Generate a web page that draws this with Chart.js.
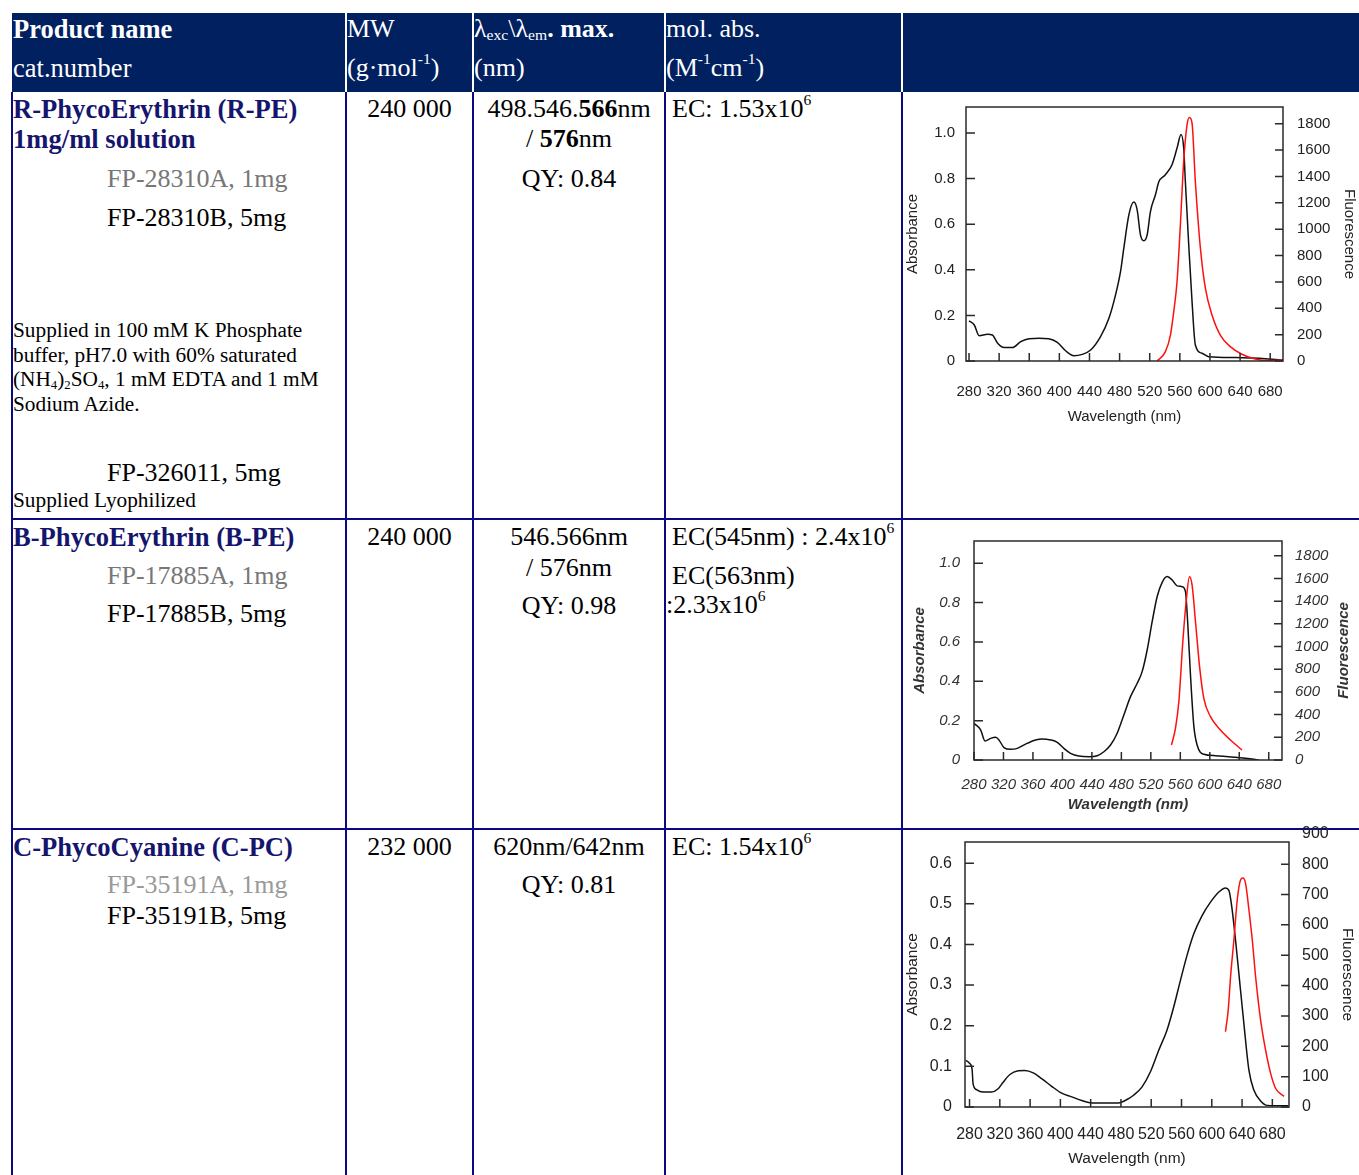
<!DOCTYPE html>
<html>
<head>
<meta charset="utf-8">
<script src="https://cdn.jsdelivr.net/npm/chart.js@4.4.1/dist/chart.umd.min.js"></script>
<style>
  body { margin:0; background:#fff; width:1359px; height:1175px; overflow:hidden; position:relative;
         font-family:"Liberation Serif","Times New Roman",serif; }
  .hd { position:absolute; left:12px; top:13px; width:1347px; height:79px; background:#002060; }
  .sepw { position:absolute; top:13px; height:79px; width:2px; background:#fff; }
  .vl { position:absolute; top:92px; height:1083px; width:2px; background:#0a0a80; }
  .hl { position:absolute; left:11px; width:1348px; height:2px; background:#0a0a80; }
  .t { position:absolute; font-size:26px; line-height:26px; white-space:nowrap; color:#000; }
  .h { font-size:26.5px; }
  .s { position:absolute; font-size:21.3px; line-height:24.5px; white-space:nowrap; color:#000; }
  .w { color:#fff; }
  .b { font-weight:bold; }
  .n { color:#15156e; font-weight:bold; font-size:26.6px; }
  .g { color:#777; }
  .g2 { color:#999; }
  .c { text-align:center; }
  sup { font-size:0.6em; line-height:0; vertical-align:0.75em; }
  sub { font-size:0.6em; line-height:0; vertical-align:-0.2em; }
  canvas { position:absolute; }
</style>
</head>
<body>
<div class="hd"></div>
<div class="sepw" style="left:345px"></div>
<div class="sepw" style="left:472px"></div>
<div class="sepw" style="left:664px"></div>
<div class="sepw" style="left:901px"></div>

<div class="vl" style="left:11px"></div>
<div class="vl" style="left:345px"></div>
<div class="vl" style="left:472px"></div>
<div class="vl" style="left:664px"></div>
<div class="vl" style="left:901px"></div>
<div class="hl" style="top:518px"></div>
<div class="hl" style="top:828px"></div>

<!-- header -->
<div class="t h w b" style="left:13px;top:16px">Product name</div>
<div class="t h w" style="left:13px;top:55px">cat.number</div>
<div class="t w" style="left:347px;top:16px">MW</div>
<div class="t w" style="left:347px;top:55px">(g·mol<sup>-1</sup>)</div>
<div class="t w" style="left:474px;top:16px">λ<sub>exc</sub>\λ<sub>em</sub><b>. max.</b></div>
<div class="t w" style="left:474px;top:55px">(nm)</div>
<div class="t w" style="left:666px;top:16px">mol. abs.</div>
<div class="t w" style="left:666px;top:55px">(M<sup>-1</sup>cm<sup>-1</sup>)</div>

<!-- row 1 -->
<div class="t n" style="left:13px;top:96px">R-PhycoErythrin (R-PE)</div>
<div class="t n" style="left:13px;top:126px">1mg/ml solution</div>
<div class="t g" style="left:107px;top:166px">FP-28310A, 1mg</div>
<div class="t" style="left:107px;top:205px">FP-28310B, 5mg</div>
<div class="s" style="left:13px;top:318px">Supplied in 100 mM K Phosphate<br>buffer, pH7.0 with 60% saturated<br>(NH<sub>4</sub>)<sub>2</sub>SO<sub>4</sub>, 1 mM EDTA and 1 mM<br>Sodium Azide.</div>
<div class="t" style="left:107px;top:460px">FP-326011, 5mg</div>
<div class="s" style="left:13px;top:488px">Supplied Lyophilized</div>
<div class="t c" style="left:347px;width:125px;top:96px">240 000</div>
<div class="t c" style="left:474px;width:190px;top:96px">498.546.<b>566</b>nm</div>
<div class="t c" style="left:474px;width:190px;top:126px">/ <b>576</b>nm</div>
<div class="t c" style="left:474px;width:190px;top:166px">QY: 0.84</div>
<div class="t" style="left:672px;top:96px">EC: 1.53x10<sup>6</sup></div>

<!-- row 2 -->
<div class="t n" style="left:13px;top:524px">B-PhycoErythrin (B-PE)</div>
<div class="t g" style="left:107px;top:563px">FP-17885A, 1mg</div>
<div class="t" style="left:107px;top:601px">FP-17885B, 5mg</div>
<div class="t c" style="left:347px;width:125px;top:524px">240 000</div>
<div class="t c" style="left:474px;width:190px;top:524px">546.566nm</div>
<div class="t c" style="left:474px;width:190px;top:555px">/ 576nm</div>
<div class="t c" style="left:474px;width:190px;top:593px">QY: 0.98</div>
<div class="t" style="left:672px;top:524px">EC(545nm) : 2.4x10<sup>6</sup></div>
<div class="t" style="left:672px;top:563px">EC(563nm)</div>
<div class="t" style="left:666px;top:592px">:2.33x10<sup>6</sup></div>

<!-- row 3 -->
<div class="t n" style="left:13px;top:834px">C-PhycoCyanine (C-PC)</div>
<div class="t g2" style="left:107px;top:872px">FP-35191A, 1mg</div>
<div class="t" style="left:107px;top:903px">FP-35191B, 5mg</div>
<div class="t c" style="left:347px;width:125px;top:834px">232 000</div>
<div class="t c" style="left:474px;width:190px;top:834px">620nm/642nm</div>
<div class="t c" style="left:474px;width:190px;top:872px">QY: 0.81</div>
<div class="t" style="left:672px;top:834px">EC: 1.54x10<sup>6</sup></div>

<canvas id="c1" width="456" height="426" style="left:903px;top:93px"></canvas>
<canvas id="c2" width="456" height="308" style="left:903px;top:521px"></canvas>
<canvas id="c3" width="456" height="355" style="left:903px;top:820px"></canvas>

<script>
// axis ticks
const nmTicks = [280, 320, 360, 400, 440, 480, 520, 560, 600, 640, 680];
const absTicksPE = [0, 0.2, 0.4, 0.6, 0.8, 1.0];
const flTicksPE = [0, 200, 400, 600, 800, 1000, 1200, 1400, 1600, 1800];
const absTicksPC = [0, 0.1, 0.2, 0.3, 0.4, 0.5, 0.6];
const flTicksPC = [0, 100, 200, 300, 400, 500, 600, 700, 800, 900];

// R-PE
const rpeAbsNm = [280, 287, 293.5, 304.5, 311, 318, 326.6, 337.7, 348.7, 359.8, 373, 386, 397.3, 408.3, 419.4, 430.4, 441.5, 454.7, 465.8, 474.6, 481.2, 485.6, 492.3, 498.9, 503.3, 507.7, 512.1, 516.6, 521, 527.6, 532, 540.8, 549.6, 556.3, 561.6, 565.1, 567.3, 571.8, 576.2, 580.6, 589.4, 598.3, 633.6, 677.8, 697];
const rpeAbs = [0.176, 0.158, 0.111, 0.117, 0.114, 0.078, 0.059, 0.059, 0.085, 0.098, 0.1, 0.098, 0.082, 0.045, 0.023, 0.029, 0.048, 0.107, 0.187, 0.29, 0.392, 0.495, 0.641, 0.697, 0.663, 0.553, 0.527, 0.553, 0.656, 0.729, 0.785, 0.817, 0.861, 0.934, 0.993, 0.934, 0.788, 0.51, 0.261, 0.07, 0.034, 0.019, 0.015, 0.009, 0.004];
const rpeFlNm = [529.8, 540.8, 547.5, 551.9, 556.3, 560.7, 565.1, 569.6, 572.7, 576.2, 580.6, 587.3, 593.9, 602.7, 613.7, 627, 642.4, 660.1, 677.8, 697];
const rpeFl = [0, 71, 197, 375, 603, 1033, 1514, 1793, 1848, 1805, 1362, 856, 552, 349, 197, 109, 51, 15, 3, 8];

// B-PE
const bpeAbsNm = [280, 289, 294.9, 302.6, 309.4, 313.9, 320.7, 329.7, 338.8, 350, 363.6, 372.7, 384, 393, 402, 411, 422.4, 436, 447.2, 456.3, 465.3, 474.3, 483.4, 492.4, 501.5, 508.2, 515, 521.8, 528.6, 535.4, 542.1, 548.9, 555.7, 562.5, 567, 570.2, 573.8, 578.3, 582.8, 591.9, 607.7, 634.8, 661.9, 666.4];
const bpeAbs = [0.186, 0.153, 0.097, 0.11, 0.115, 0.102, 0.063, 0.054, 0.059, 0.081, 0.102, 0.107, 0.102, 0.09, 0.059, 0.034, 0.02, 0.017, 0.022, 0.042, 0.076, 0.136, 0.229, 0.322, 0.39, 0.449, 0.559, 0.703, 0.831, 0.903, 0.932, 0.915, 0.885, 0.881, 0.856, 0.686, 0.432, 0.175, 0.076, 0.029, 0.022, 0.014, 0.003, 0];
const bpeFlNm = [548, 553.4, 558, 563.4, 567.9, 572.4, 576, 580.6, 586.4, 591.9, 600.9, 614.5, 628, 643.8];
const bpeFl = [132, 279, 514, 1042, 1395, 1615, 1541, 1218, 807, 543, 382, 264, 176, 88];

// C-PC
const cpcAbsNm = [275, 280.2, 283.3, 284.7, 289.1, 297.9, 309, 317.8, 324.4, 333.3, 344.3, 353.1, 364.2, 375.2, 388.5, 401.7, 415, 428.2, 441.5, 454.7, 476.8, 485.6, 496.7, 507.7, 518.8, 529.8, 540.8, 549.7, 558.5, 567.3, 576.2, 587.2, 598.3, 609.3, 618.1, 622.6, 627, 631.4, 635.8, 642.4, 649.1, 655.7, 664.5, 673.4, 701];
const cpcAbs = [0.115, 0.107, 0.094, 0.057, 0.043, 0.037, 0.037, 0.045, 0.061, 0.08, 0.089, 0.09, 0.084, 0.07, 0.051, 0.034, 0.025, 0.016, 0.01, 0.01, 0.01, 0.016, 0.029, 0.049, 0.086, 0.139, 0.189, 0.246, 0.311, 0.373, 0.426, 0.471, 0.504, 0.529, 0.539, 0.533, 0.484, 0.41, 0.328, 0.205, 0.09, 0.041, 0.015, 0.004, 0.003];
const cpcFlNm = [618.1, 621.7, 624.8, 629.2, 633.6, 638, 641.1, 644.6, 649.1, 653.5, 657.9, 664.5, 671.1, 677.8, 684.4, 695.4];
const cpcFl = [248, 319, 429, 550, 682, 748, 754, 737, 649, 550, 429, 286, 187, 110, 61, 35];

const pairs = (xs, ys) => xs.map((x, i) => ({ x: x, y: ys[i] }));

// frame around plot with inward tick marks (+ optional bottom-to-top right title)
const framePlugin = {
  id: 'frame',
  afterDatasetsDraw(chart, args, opts) {
    const { ctx, chartArea: a, scales } = chart;
    ctx.save();
    ctx.strokeStyle = '#2a2a2a';
    ctx.lineWidth = 1.5;
    ctx.strokeRect(a.left, a.top, a.right - a.left, a.bottom - a.top);
    ctx.beginPath();
    scales.x.ticks.forEach((t) => {
      const p = scales.x.getPixelForValue(t.value);
      ctx.moveTo(p, a.bottom); ctx.lineTo(p, a.bottom - 8);
    });
    scales.y.ticks.forEach((t) => {
      if (t.value > scales.y.max) return;
      const p = scales.y.getPixelForValue(t.value);
      ctx.moveTo(a.left, p); ctx.lineTo(a.left + 9, p);
    });
    scales.y2.ticks.forEach((t) => {
      if (t.value > scales.y2.max) return;
      const p = scales.y2.getPixelForValue(t.value);
      ctx.moveTo(a.right, p); ctx.lineTo(a.right - 8, p);
    });
    ctx.stroke();
    if (opts.upTitle) {
      ctx.translate(opts.upX, (a.top + a.bottom) / 2);
      ctx.rotate(-Math.PI / 2);
      ctx.font = opts.upFont;
      ctx.fillStyle = opts.upColor;
      ctx.textAlign = 'center';
      ctx.textBaseline = 'middle';
      ctx.fillText(opts.upTitle, 0, 0);
    }
    ctx.restore();
  }
};

function noPad(s) {
  s.paddingTop = 0; s.paddingBottom = 0; s.paddingLeft = 0; s.paddingRight = 0;
}

function spectrum(id, abs, fl, lay) {
  const fam = 'Liberation Sans, Arial, sans-serif';
  const font = { family: fam, size: lay.tickSize, style: lay.style };
  const titleFont = { family: fam, size: lay.titleSize, style: lay.style, weight: lay.titleWeight };
  new Chart(document.getElementById(id), {
    type: 'line',
    data: {
      datasets: [
        { data: fl, yAxisID: 'y2', borderColor: '#ff1010', borderWidth: 1.5, pointRadius: 0, cubicInterpolationMode: 'monotone' },
        { data: abs, yAxisID: 'y', borderColor: '#111', borderWidth: 1.5, pointRadius: 0, cubicInterpolationMode: 'monotone' }
      ]
    },
    options: {
      responsive: false,
      animation: false,
      events: [],
      layout: { padding: { top: lay.top, bottom: lay.bottom, left: 0, right: 0 } },
      plugins: {
        legend: { display: false },
        tooltip: { enabled: false },
        frame: lay.upRight ? {
          upTitle: 'Fluorescence', upX: 456 - lay.upRight,
          upFont: lay.style + ' ' + lay.titleWeight + ' ' + lay.titleSize + 'px ' + fam, upColor: lay.color
        } : {}
      },
      scales: {
        x: {
          type: 'linear', min: lay.xMin, max: lay.xMax,
          afterBuildTicks: (s) => { s.ticks = nmTicks.map((v) => ({ value: v })); },
          afterFit: (s) => { s.height = lay.xh; noPad(s); },
          grid: { display: false, drawTicks: false }, border: { display: false },
          ticks: { autoSkip: false, maxRotation: 0, padding: lay.xPad, color: lay.color, font: font },
          title: { display: true, text: 'Wavelength (nm)', color: lay.color, font: titleFont, padding: 0 }
        },
        y: {
          position: 'left', min: 0, max: lay.absMax,
          afterBuildTicks: (s) => { s.ticks = lay.absTicks.map((v) => ({ value: v })); },
          afterFit: (s) => { s.width = lay.yw; noPad(s); },
          grid: { display: false, drawTicks: false }, border: { display: false },
          ticks: { padding: lay.yPad, color: lay.color, font: font, callback: (v) => (v === 0 ? '0' : v.toFixed(1)) },
          title: { display: true, text: 'Absorbance', color: lay.color, font: titleFont, padding: { top: lay.yTitlePad, bottom: 0 } }
        },
        y2: {
          position: 'right', min: 0, max: lay.flMax,
          afterBuildTicks: (s) => { s.ticks = lay.flTicks.map((v) => ({ value: v })); },
          afterFit: (s) => { s.width = lay.y2w; noPad(s); },
          grid: { display: false, drawTicks: false }, border: { display: false },
          ticks: { padding: lay.y2Pad, color: lay.color, font: font, callback: (v) => String(v) },
          title: { display: !lay.upRight, text: 'Fluorescence', color: lay.color, font: titleFont, padding: { top: lay.y2TitlePad, bottom: 0 } }
        }
      }
    },
    plugins: [framePlugin]
  });
}

spectrum('c1', pairs(rpeAbsNm, rpeAbs), pairs(rpeFlNm, rpeFl), {
  xMin: 276, xMax: 697, absMax: 1.114, flMax: 1927, absTicks: absTicksPE, flTicks: flTicksPE,
  top: 14, bottom: 93, xh: 65, yw: 63, y2w: 76, xPad: 22, yPad: 11, y2Pad: 14,
  yTitlePad: 1, y2TitlePad: 1, tickSize: 15, titleSize: 15, style: 'normal', titleWeight: 'normal', color: '#222'
});
spectrum('c2', pairs(bpeAbsNm, bpeAbs), pairs(bpeFlNm, bpeFl), {
  xMin: 280, xMax: 698, absMax: 1.113, flMax: 1930, absTicks: absTicksPE, flTicks: flTicksPE,
  top: 20, bottom: 15, xh: 54, yw: 71, y2w: 77, xPad: 16, yPad: 14, y2Pad: 13,
  yTitlePad: 8, y2TitlePad: 6, upRight: 15, tickSize: 15, titleSize: 15, style: 'italic', titleWeight: 'bold', color: '#333'
});
spectrum('c3', pairs(cpcAbsNm, cpcAbs), pairs(cpcFlNm, cpcFl), {
  xMin: 274, xMax: 702, absMax: 0.652, flMax: 873, absTicks: absTicksPC, flTicks: flTicksPC,
  top: 22, bottom: 7, xh: 61, yw: 62, y2w: 70, xPad: 18, yPad: 13, y2Pad: 13,
  yTitlePad: 0, y2TitlePad: 2, tickSize: 16, titleSize: 15.5, style: 'normal', titleWeight: 'normal', color: '#222'
});
</script>
</body>
</html>
